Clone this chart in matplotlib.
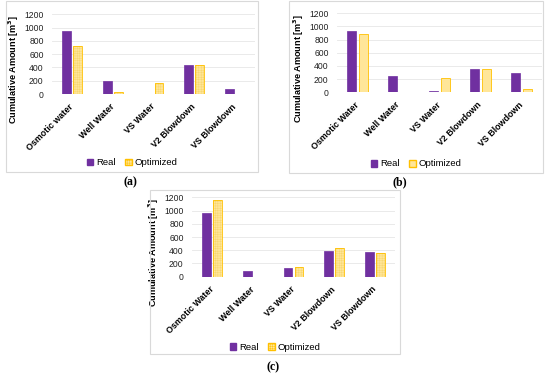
import matplotlib
matplotlib.use("Agg")
import matplotlib.pyplot as plt
from matplotlib.patches import Rectangle, Patch
import numpy as np

plt.rcParams['font.family'] = ['Liberation Sans', 'DejaVu Sans']
plt.rcParams['hatch.linewidth'] = 0.3

cats_a = ["Osmotic water", "Well Water", "VS Water", "V2 Blowdown", "VS Blowdown"]
cats_bc = ["Osmotic Water", "Well Water", "VS Water", "V2 Blowdown", "VS Blowdown"]

real_a = [950, 198, 5, 433, 72]
opt_a = [720, 30, 166, 443, 0]

real_b = [930, 243, 22, 355, 300]
opt_b = [882, 0, 224, 360, 56]

real_c = [965, 90, 126, 393, 368]
opt_c = [1152, 0, 142, 435, 358]

yticks = [0, 200, 400, 600, 800, 1000, 1200]

W, H = 550, 379
fig = plt.figure(figsize=(5.5, 3.79), dpi=100)

PURPLE = "#7030A0"
YFILL = "#FFE699"
YEDGE = "#FFC000"
HATCHC = "#F7D46A"


def px_rect(l, r, t, b):
    return [l / W, 1 - b / H, (r - l) / W, (b - t) / H]


def frame(l, r, t, b):
    fig.patches.append(Rectangle((l / W, 1 - b / H), (r - l) / W, (b - t) / H,
                                 transform=fig.transFigure, fill=False,
                                 edgecolor="#D9D9D9", linewidth=0.8))


def panel(rect, cats, real, opt, hatch, frame_box, legend_y, label, label_xy):
    ax = fig.add_axes(px_rect(*rect))
    x = np.arange(len(cats))
    w = 0.22
    off = 0.135
    ax.bar(x - off, real, width=w, color=PURPLE, edgecolor=PURPLE, linewidth=0.5, zorder=3)
    if hatch:
        ax.bar(x + off, opt, width=w, color=YFILL, edgecolor=HATCHC, linewidth=0,
               hatch=hatch, zorder=3)
        ax.bar(x + off, opt, width=w, fill=False, edgecolor=YEDGE, linewidth=0.6, zorder=4)
    else:
        ax.bar(x + off, opt, width=w, color=YFILL, edgecolor=YEDGE, linewidth=0.6, zorder=3)
    ax.set_xlim(-0.5, len(cats) - 0.5)
    ax.set_ylim(0, 1200)
    ax.set_yticks(yticks)
    ax.set_yticklabels([str(v) for v in yticks], fontsize=6.2, color="#222222")
    ax.set_xticks(x)
    ax.set_xticklabels(cats, rotation=45, ha="right", va="center", rotation_mode="anchor",
                       fontsize=6.4, fontweight="bold")
    ax.tick_params(axis="both", length=0)
    ax.tick_params(axis="y", pad=6)
    ax.tick_params(axis="x", pad=8)
    for s in ax.spines.values():
        s.set_visible(False)
    ax.grid(axis="y", color="#E6E6E6", linewidth=0.6, zorder=0)
    ax.set_axisbelow(True)
    ax.set_ylabel("Cumulative Amount [m$^\\mathbf{3}$]", fontsize=6.6, fontweight="bold")
    lx = (rect[0] - 31) / W
    ly = 1 - (rect[2] + 55) / H
    ax.yaxis.set_label_coords(lx, ly, transform=fig.transFigure)
    fl, fr, ft, fb = frame_box
    frame(fl, fr, ft, fb)
    handles = [Patch(facecolor=PURPLE, edgecolor=PURPLE),
               Patch(facecolor=YFILL, edgecolor=YEDGE, hatch=hatch)]
    fig.legend(handles, ["Real", "Optimized"], loc="center",
               bbox_to_anchor=((fl + fr) / 2 / W, 1 - legend_y / H),
               ncol=2, frameon=False, fontsize=6.8, handlelength=0.7,
               handleheight=0.7, handletextpad=0.3, columnspacing=1.0)
    fig.text(label_xy[0] / W, 1 - label_xy[1] / H, label, ha="center", va="center",
             fontsize=8.5, fontweight="bold", family="Liberation Serif")
    return ax


panel((52, 255, 14.3, 94.0), cats_a, real_a, opt_a, "+++++++",
      (6, 258, 1, 172), 163, "(a)", (130, 182))
panel((337, 542, 13.3, 92.3), cats_bc, real_b, opt_b, None,
      (289, 543, 1, 173), 164, "(b)", (400, 182))
panel((192, 395, 197.3, 276.7), cats_bc, real_c, opt_c, "+++++++",
      (150, 400, 190, 354), 347, "(c)", (273, 367))

fig.savefig("out.png", dpi=100)
